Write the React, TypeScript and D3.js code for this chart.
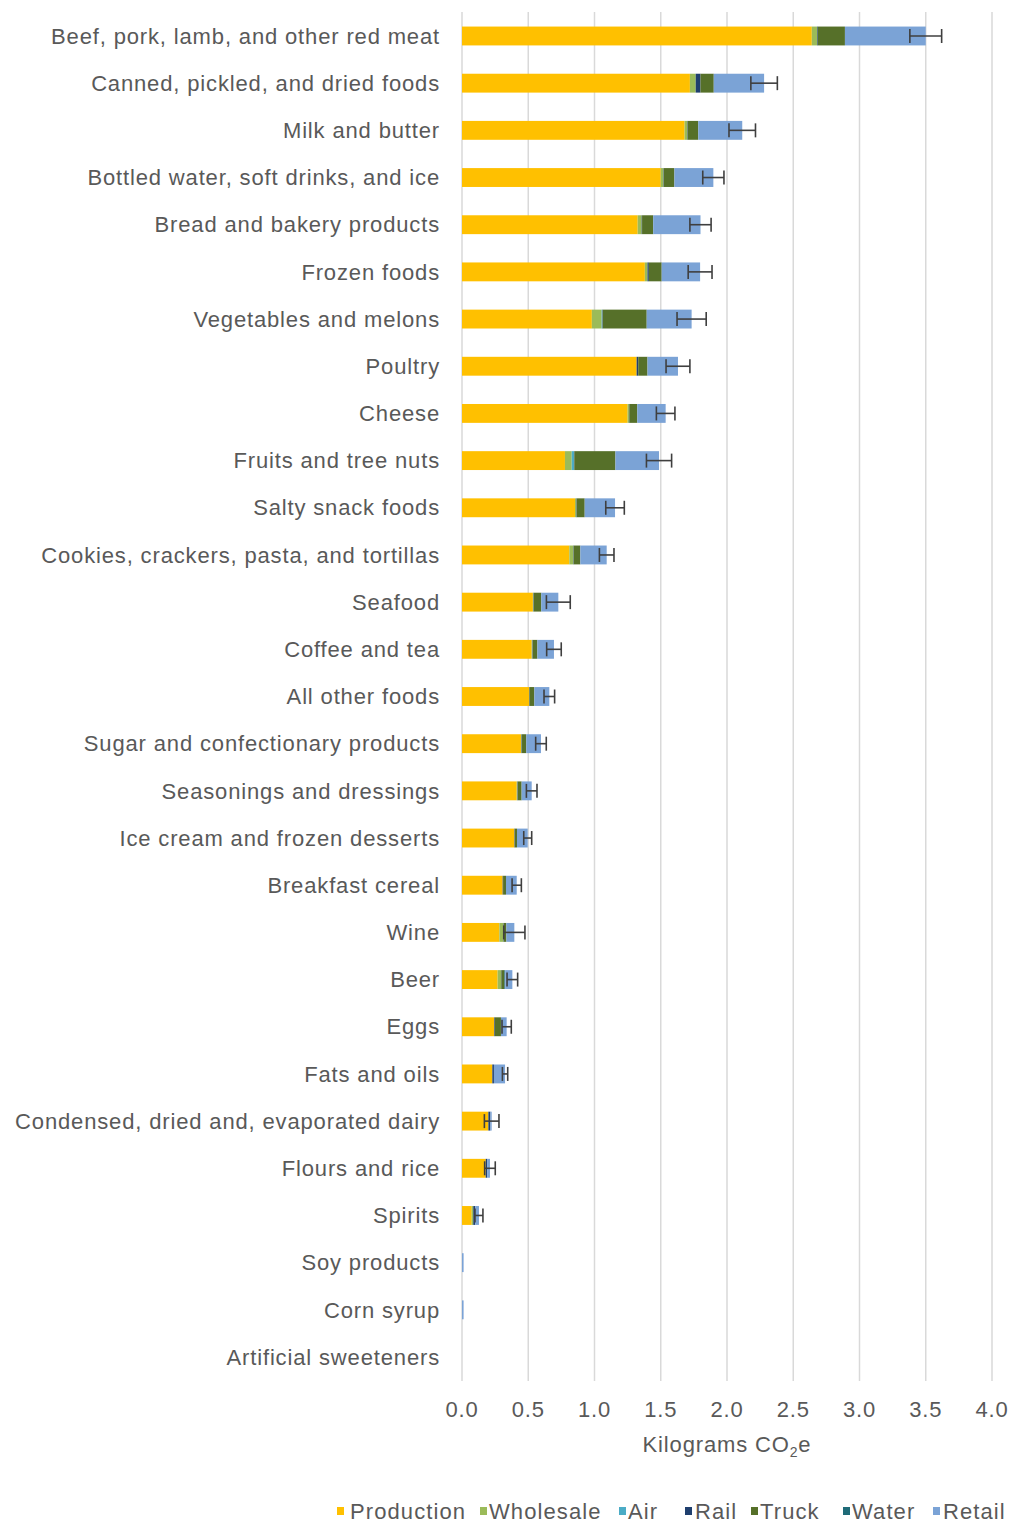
import React from "react";
import * as d3 from "d3";

const categories = [
  "Beef, pork, lamb, and other red meat",
  "Canned, pickled, and dried foods",
  "Milk and butter",
  "Bottled water, soft drinks, and ice",
  "Bread and bakery products",
  "Frozen foods",
  "Vegetables and melons",
  "Poultry",
  "Cheese",
  "Fruits and tree nuts",
  "Salty snack foods",
  "Cookies, crackers, pasta, and tortillas",
  "Seafood",
  "Coffee and tea",
  "All other foods",
  "Sugar and confectionary products",
  "Seasonings and dressings",
  "Ice cream and frozen desserts",
  "Breakfast cereal",
  "Wine",
  "Beer",
  "Eggs",
  "Fats and oils",
  "Condensed, dried and, evaporated dairy",
  "Flours and rice",
  "Spirits",
  "Soy products",
  "Corn syrup",
  "Artificial sweeteners",
];

const seriesNames = ["Production", "Wholesale", "Air", "Rail", "Truck", "Water", "Retail"];
const seriesColors = ["#FFC000", "#9BBB59", "#4BACC6", "#1F3F6E", "#567029", "#1F6B78", "#7BA3D6"];

const production = [2.64, 1.72, 1.68, 1.5, 1.326, 1.38, 0.98, 1.318, 1.25, 0.777, 0.853, 0.81, 0.535, 0.526, 0.506, 0.445, 0.413, 0.395, 0.307, 0.282, 0.269, 0.244, 0.229, 0.199, 0.179, 0.073, 0, 0, 0];
const wholesale = [0.04, 0.044, 0.02, 0.02, 0.03, 0.02, 0.074, 0, 0.01, 0.051, 0.01, 0.03, 0.005, 0.005, 0, 0.005, 0.005, 0, 0, 0.03, 0.025, 0, 0, 0, 0, 0.012, 0, 0, 0];
const air = [0, 0, 0, 0, 0, 0, 0.005, 0, 0, 0.017, 0, 0, 0, 0, 0, 0, 0, 0, 0, 0, 0, 0, 0, 0, 0, 0, 0, 0, 0];
const rail = [0.005, 0.036, 0.003, 0.003, 0.003, 0.01, 0.003, 0.012, 0.003, 0.003, 0.003, 0.003, 0.003, 0.003, 0.003, 0.003, 0.003, 0.003, 0.003, 0.003, 0.003, 0.005, 0.012, 0.015, 0.011, 0.015, 0, 0, 0];
const truck = [0.205, 0.1, 0.08, 0.08, 0.084, 0.097, 0.332, 0.07, 0.06, 0.31, 0.06, 0.05, 0.055, 0.035, 0.037, 0.032, 0.029, 0.017, 0.022, 0.02, 0.023, 0.045, 0, 0, 0, 0, 0, 0, 0];
const water = [0, 0, 0, 0, 0, 0, 0, 0, 0, 0, 0, 0, 0, 0, 0, 0, 0, 0, 0, 0, 0.006, 0, 0, 0, 0, 0, 0, 0, 0];
const retail = [0.61, 0.38, 0.332, 0.294, 0.357, 0.29, 0.339, 0.23, 0.214, 0.329, 0.229, 0.199, 0.129, 0.125, 0.113, 0.111, 0.076, 0.081, 0.081, 0.06, 0.054, 0.043, 0.084, 0.01, 0.021, 0.028, 0.012, 0.012, 0];
const errorMargin = [0.12, 0.1, 0.1, 0.08, 0.08, 0.09, 0.11, 0.09, 0.07, 0.095, 0.07, 0.055, 0.09, 0.055, 0.04, 0.04, 0.04, 0.03, 0.035, 0.08, 0.04, 0.035, 0.02, 0.055, 0.04, 0.03, 0, 0, 0];

const xTicks = [0, 0.5, 1, 1.5, 2, 2.5, 3, 3.5, 4];
const axisTitle = "Kilograms CO";

const seriesData = [production, wholesale, air, rail, truck, water, retail];

export default function App() {
  const W = 1014;
  const H = 1524;
  const x = d3.scaleLinear().domain([0, 4]).range([462, 992]);
  const y = d3.scaleBand<string>().domain(categories).range([12.4, 1380.6]).paddingInner(0.6).paddingOuter(0.3);

  const rows = categories.map((c, i) => {
    const obj: any = { cat: c };
    seriesNames.forEach((s, k) => (obj[s] = seriesData[k][i]));
    return obj;
  });
  const stack = d3.stack<any>().keys(seriesNames);
  const stacked = stack(rows);

  const textColor = "#595959";
  const font = "'Liberation Sans', Arial, Helvetica, sans-serif";
  const fs = 22;
  const ls = 0.85;

  const legendSquareX = [337, 480, 619, 685, 751, 843, 933];
  const legendTextX = [350, 489, 628, 695, 760, 852, 943];

  return (
    <svg width={W} height={H} style={{ position: "absolute", left: 0, top: 0, background: "#fff" }} fontFamily={font}>
      <rect x={0} y={0} width={W} height={H} fill="#fff" />
      {xTicks.map((t) => (
        <line key={t} x1={x(t)} x2={x(t)} y1={12} y2={1381} stroke="#D9D9D9" strokeWidth={1.5} />
      ))}
      {stacked.map((layer, k) => (
        <g key={layer.key} fill={seriesColors[k]}>
          {layer.map((d, i) => {
            const w = x(d[1]) - x(d[0]);
            if (w <= 0) return null;
            return <rect key={i} x={x(d[0])} y={y(categories[i])} width={w} height={y.bandwidth()} />;
          })}
        </g>
      ))}
      {categories.map((c, i) => {
        const total = seriesData.reduce((s, arr) => s + arr[i], 0);
        const e = errorMargin[i];
        if (e <= 0) return null;
        const cy = (y(c) as number) + y.bandwidth() / 2;
        return (
          <g key={c} stroke="#3F3F3F" strokeWidth={1.6}>
            <line x1={x(total - e)} x2={x(total + e)} y1={cy} y2={cy} />
            <line x1={x(total - e)} x2={x(total - e)} y1={cy - 7} y2={cy + 7} />
            <line x1={x(total + e)} x2={x(total + e)} y1={cy - 7} y2={cy + 7} />
          </g>
        );
      })}
      {categories.map((c) => (
        <text key={c} x={440} y={(y(c) as number) + y.bandwidth() / 2} dy="0.35em" textAnchor="end" fontSize={fs} letterSpacing={ls} fill={textColor}>
          {c}
        </text>
      ))}
      {xTicks.map((t) => (
        <text key={t} x={x(t)} y={1409} dy="0.35em" textAnchor="middle" fontSize={fs} letterSpacing={ls} fill={textColor}>
          {d3.format(".1f")(t)}
        </text>
      ))}
      <text x={727} y={1444} dy="0.35em" textAnchor="middle" fontSize={fs} letterSpacing={ls} fill={textColor}>
        {axisTitle}
        <tspan fontSize={14} dy="5">2</tspan>
        <tspan dy="-5">e</tspan>
      </text>
      {seriesNames.map((s, k) => (
        <g key={s}>
          <rect x={legendSquareX[k]} y={1507} width={7} height={8} fill={seriesColors[k]} />
          <text x={legendTextX[k]} y={1511} dy="0.35em" fontSize={fs} letterSpacing={1.1} fill={textColor}>
            {s}
          </text>
        </g>
      ))}
    </svg>
  );
}
